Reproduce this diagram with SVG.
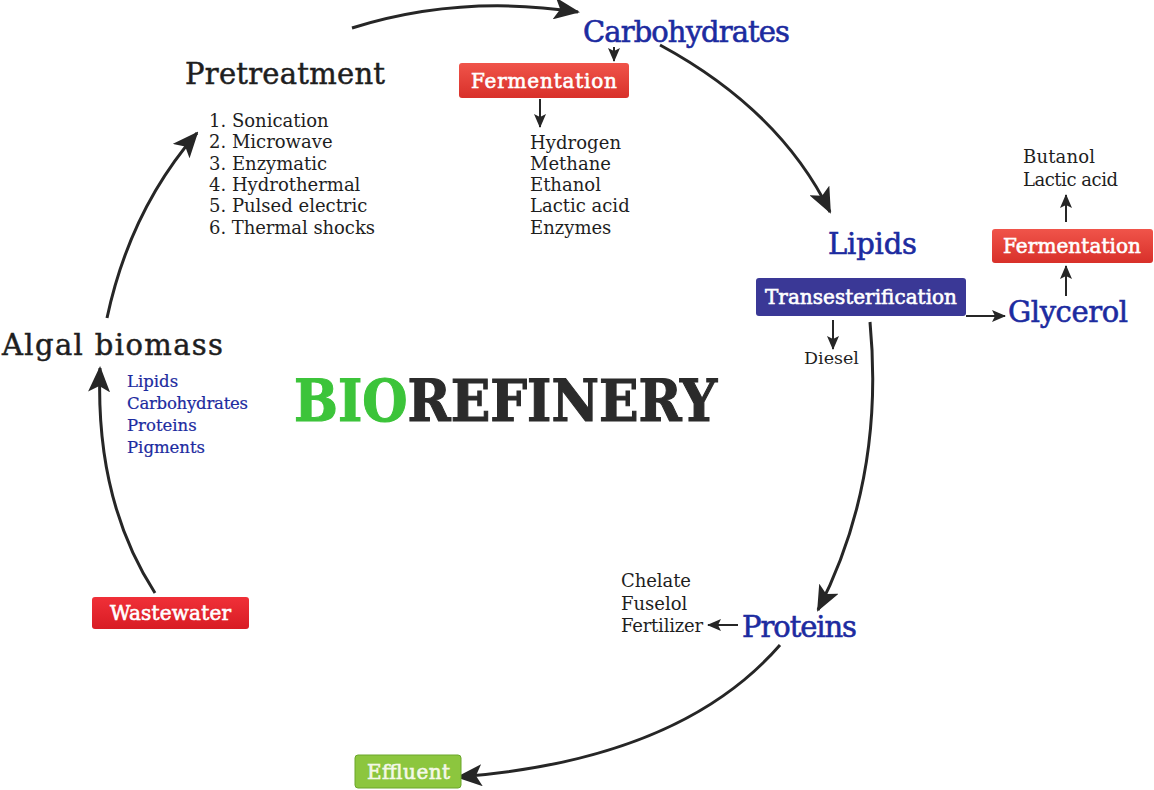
<svg xmlns="http://www.w3.org/2000/svg" width="1154" height="790" viewBox="0 0 1154 790">
<defs>
<marker id="big" markerUnits="userSpaceOnUse" markerWidth="26" markerHeight="22" refX="24" refY="11" orient="auto"><path d="M0,0 L26,11 L0,22 L6,11 Z" fill="#262626"/></marker>
<marker id="small" markerUnits="userSpaceOnUse" markerWidth="14" markerHeight="12" refX="13" refY="6" orient="auto"><path d="M0,0 L14,6 L0,12 L3,6 Z" fill="#262626"/></marker>
<linearGradient id="red" x1="0" y1="0" x2="0" y2="1"><stop offset="0" stop-color="#f0544a"/><stop offset="1" stop-color="#d8302a"/></linearGradient>
<linearGradient id="red2" x1="0" y1="0" x2="0" y2="1"><stop offset="0" stop-color="#f03038"/><stop offset="1" stop-color="#d81c24"/></linearGradient>
<style>
.t{font-family:"DejaVu Serif","Liberation Serif",serif}
.big{font-size:29px;fill:#1c2ba0;stroke:#1c2ba0;stroke-width:0.6}
.head{font-size:29px;fill:#1e1e1e;stroke:#1e1e1e;stroke-width:0.5}
.lst{font-size:18px;fill:#1e1e1e}
.blst{font-size:16.5px;fill:#1c2ba0;stroke:#1c2ba0;stroke-width:0.2}
.box{font-size:20px;fill:#ffffff;stroke:#ffffff;stroke-width:0.6}
.arc{fill:none;stroke:#262626;stroke-width:3;marker-end:url(#big)}
.sa{fill:none;stroke:#262626;stroke-width:2;marker-end:url(#small)}
</style>
</defs>
<rect width="1154" height="790" fill="#ffffff"/>
<g id="connectors">
<path class="arc" d="M352,28 Q460,-6 578,12"/>
<path class="arc" d="M660,45 Q780,110 830,212"/>
<path class="arc" d="M870,322 Q885,480 818,610"/>
<path class="arc" d="M780,645 Q680,760 458,777"/>
<path class="arc" d="M155,593 Q95,500 100,368"/>
<path class="arc" d="M107,318 Q130,210 197,133"/>
<path class="sa" d="M614,47 L614,61"/>
<path class="sa" d="M540,99 L540,127"/>
<path class="sa" d="M833,320 L833,349"/>
<path class="sa" d="M966,316 L1005,316"/>
<path class="sa" d="M1066,296 L1066,266"/>
<path class="sa" d="M1066,222 L1066,195"/>
<path class="sa" d="M738,625 L708,625"/>
</g>
<g id="carbohydrates"><text class="t big" x="583" y="42" textLength="207">Carbohydrates</text></g>
<g id="fermentation1"><rect x="459" y="63" width="170" height="35" rx="3" fill="url(#red)"/><text class="t box" x="471" y="88" textLength="146">Fermentation</text></g>
<g id="products1"><text class="t lst" x="530" y="149" textLength="91">Hydrogen</text><text class="t lst" x="530" y="170">Methane</text><text class="t lst" x="530" y="191">Ethanol</text><text class="t lst" x="530" y="212">Lactic acid</text><text class="t lst" x="530" y="234">Enzymes</text></g>
<g id="pretreatment"><text class="t head" x="185" y="84" textLength="200">Pretreatment</text>
<text class="t lst" x="209" y="127">1. Sonication</text><text class="t lst" x="209" y="148">2. Microwave</text><text class="t lst" x="209" y="170">3. Enzymatic</text><text class="t lst" x="209" y="191">4. Hydrothermal</text><text class="t lst" x="209" y="212">5. Pulsed electric</text><text class="t lst" x="209" y="234" textLength="166">6. Thermal shocks</text></g>
<g id="lipids"><text class="t big" x="828" y="254" textLength="89">Lipids</text></g>
<g id="transesterification"><rect x="756" y="278" width="210" height="38" rx="3" fill="#3a3896"/><text class="t box" x="765" y="304" textLength="192">Transesterification</text></g>
<g id="diesel"><text class="t" x="804" y="364" font-size="17.5" fill="#1e1e1e">Diesel</text></g>
<g id="glycerol"><text class="t big" x="1008" y="322" textLength="120">Glycerol</text></g>
<g id="fermentation2"><rect x="992" y="229" width="161" height="34" rx="3" fill="url(#red)"/><text class="t box" x="1003" y="253" textLength="138">Fermentation</text></g>
<g id="products2"><text class="t lst" x="1023" y="163" textLength="72">Butanol</text><text class="t lst" x="1023" y="186" textLength="95">Lactic acid</text></g>
<g id="proteins"><text class="t big" x="742" y="637" textLength="115">Proteins</text></g>
<g id="products3"><text class="t lst" x="621" y="587" textLength="70">Chelate</text><text class="t lst" x="621" y="610">Fuselol</text><text class="t lst" x="621" y="632" textLength="82">Fertilizer</text></g>
<g id="effluent"><rect x="355" y="755" width="106" height="33" rx="3" fill="#8cc63e" stroke="#6aa62a" stroke-width="1"/><text class="t box" x="367" y="779" textLength="83" style="fill:#f4f8e8;stroke:#f4f8e8">Effluent</text></g>
<g id="wastewater"><rect x="92" y="597" width="157" height="32" rx="3" fill="url(#red2)"/><text class="t box" x="110" y="620" textLength="121">Wastewater</text></g>
<g id="algal"><text class="t head" x="2" y="355" textLength="221">Algal biomass</text>
<text class="t blst" x="127" y="387">Lipids</text><text class="t blst" x="127" y="409" textLength="121">Carbohydrates</text><text class="t blst" x="127" y="431">Proteins</text><text class="t blst" x="127" y="453">Pigments</text></g>
<g id="title"><text x="294" y="421" font-family="'DejaVu Serif Condensed','DejaVu Serif',serif" font-size="57" font-weight="bold" textLength="423" lengthAdjust="spacingAndGlyphs" stroke-width="1"><tspan fill="#3cc43a" stroke="#3cc43a">BIO</tspan><tspan fill="#2b2b2b" stroke="#2b2b2b">REFINERY</tspan></text></g>
</svg>
